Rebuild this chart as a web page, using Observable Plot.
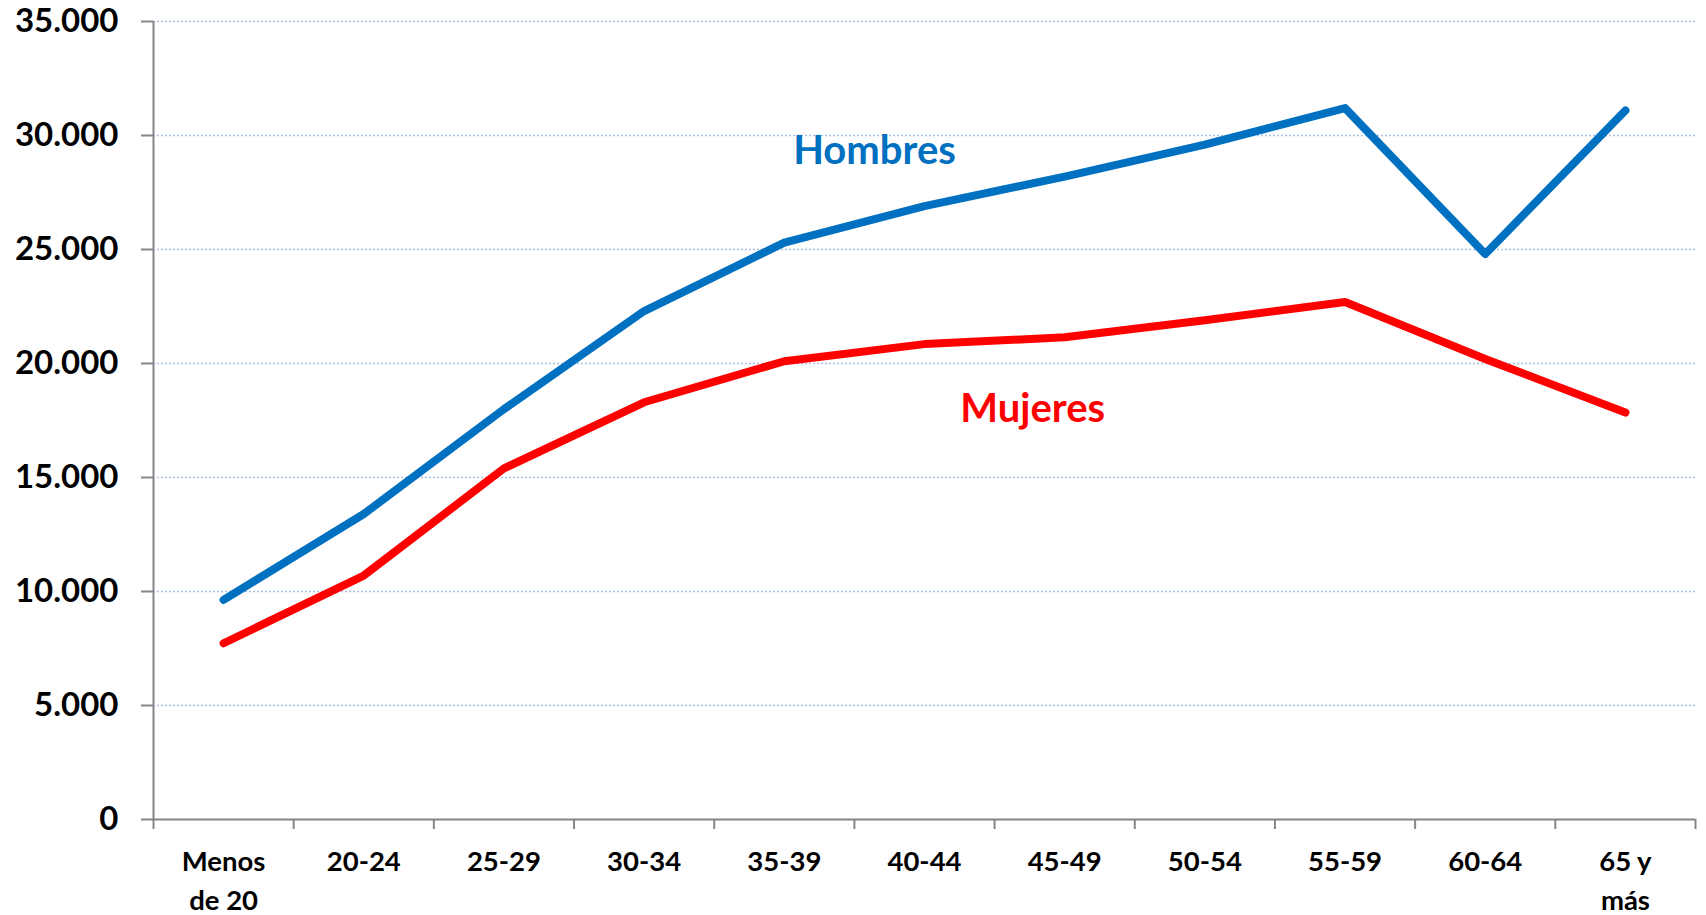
<!DOCTYPE html>
<html><head><meta charset="utf-8">
<script src="https://cdn.jsdelivr.net/npm/d3@7"></script>
<script src="https://cdn.jsdelivr.net/npm/@observablehq/plot@0.6"></script>
<style>html,body{margin:0;padding:0;background:#fff} svg{display:block}</style>
</head><body><div id="chart"></div>
<script>
const categories = ["Menos\nde 20","20-24","25-29","30-34","35-39","40-44","45-49","50-54","55-59","60-64","65 y\nmás"];
const hombres = [9630, 13400, 18000, 22300, 25300, 26900, 28200, 29600, 31200, 24800, 31100];
const mujeres = [7730, 10700, 15400, 18300, 20100, 20850, 21150, 21900, 22700, 20200, 17850];
const yTicks = [0, 5000, 10000, 15000, 20000, 25000, 30000, 35000];
const seriesNames = ["Hombres", "Mujeres"];
const labelCategory = ["40-44", "45-49"];
const labelValue = [29300, 18000];

const rows = categories.map((c, i) => ({cat: c, xc: i + 0.5, h: hombres[i], m: mujeres[i]}));
const boundaries = d3.range(0, categories.length + 1);
const labels = seriesNames.map((n, k) => ({name: n, xc: categories.indexOf(labelCategory[k]) + 0.5, v: labelValue[k]}));
const fmt = d => d3.format(",")(d).replace(/,/g, ".");
const FONT = "Lato, 'Open Sans', sans-serif";
const AXIS = "#868686";
const BLUE = "#0070C0", RED = "#FF0000";

const chart = Plot.plot({
  width: 1706, height: 915,
  marginLeft: 153, marginRight: 11, marginTop: 21, marginBottom: 96,
  style: {fontFamily: FONT, color: "#000", background: "#fff"},
  x: {domain: [0, categories.length], axis: null, label: null},
  y: {domain: [0, 35000], axis: null, label: null},
  marks: [
    Plot.gridY(yTicks.filter(v => v > 0), {stroke: "#a9bfe6", strokeOpacity: 1, strokeWidth: 1.5, strokeDasharray: "2,2"}),
    Plot.ruleX([0], {stroke: AXIS, strokeWidth: 2}),
    Plot.ruleY([0], {stroke: AXIS, strokeWidth: 2}),
    Plot.axisY({ticks: yTicks, tickFormat: fmt, tickSize: 12, tickPadding: 23, stroke: AXIS, strokeWidth: 2, fontSize: 33, fontWeight: 700, fontFamily: FONT, label: null}),
    Plot.axisX({ticks: boundaries, tickFormat: () => "", tickSize: 10, stroke: AXIS, strokeWidth: 2, label: null}),
    Plot.text(rows, {x: "xc", y: 0, text: "cat", dy: 24, lineAnchor: "top", lineHeight: 1.41, fontSize: 27.5, fontWeight: 700, fontFamily: FONT, fill: "#000"}),
    Plot.line(rows, {x: "xc", y: "h", stroke: BLUE, strokeWidth: 8, strokeLinecap: "round", strokeLinejoin: "round"}),
    Plot.line(rows, {x: "xc", y: "m", stroke: RED, strokeWidth: 8, strokeLinecap: "round", strokeLinejoin: "round"}),
    Plot.text(labels.filter(d => d.name === "Hombres"), {x: "xc", y: "v", text: "name", dx: -50, fill: BLUE, fontSize: 40, fontWeight: 700, fontFamily: FONT}),
    Plot.text(labels.filter(d => d.name === "Mujeres"), {x: "xc", y: "v", text: "name", dx: -32, fill: RED, fontSize: 40, fontWeight: 700, fontFamily: FONT})
  ]
});
document.getElementById("chart").appendChild(chart);
</script>
</body></html>
